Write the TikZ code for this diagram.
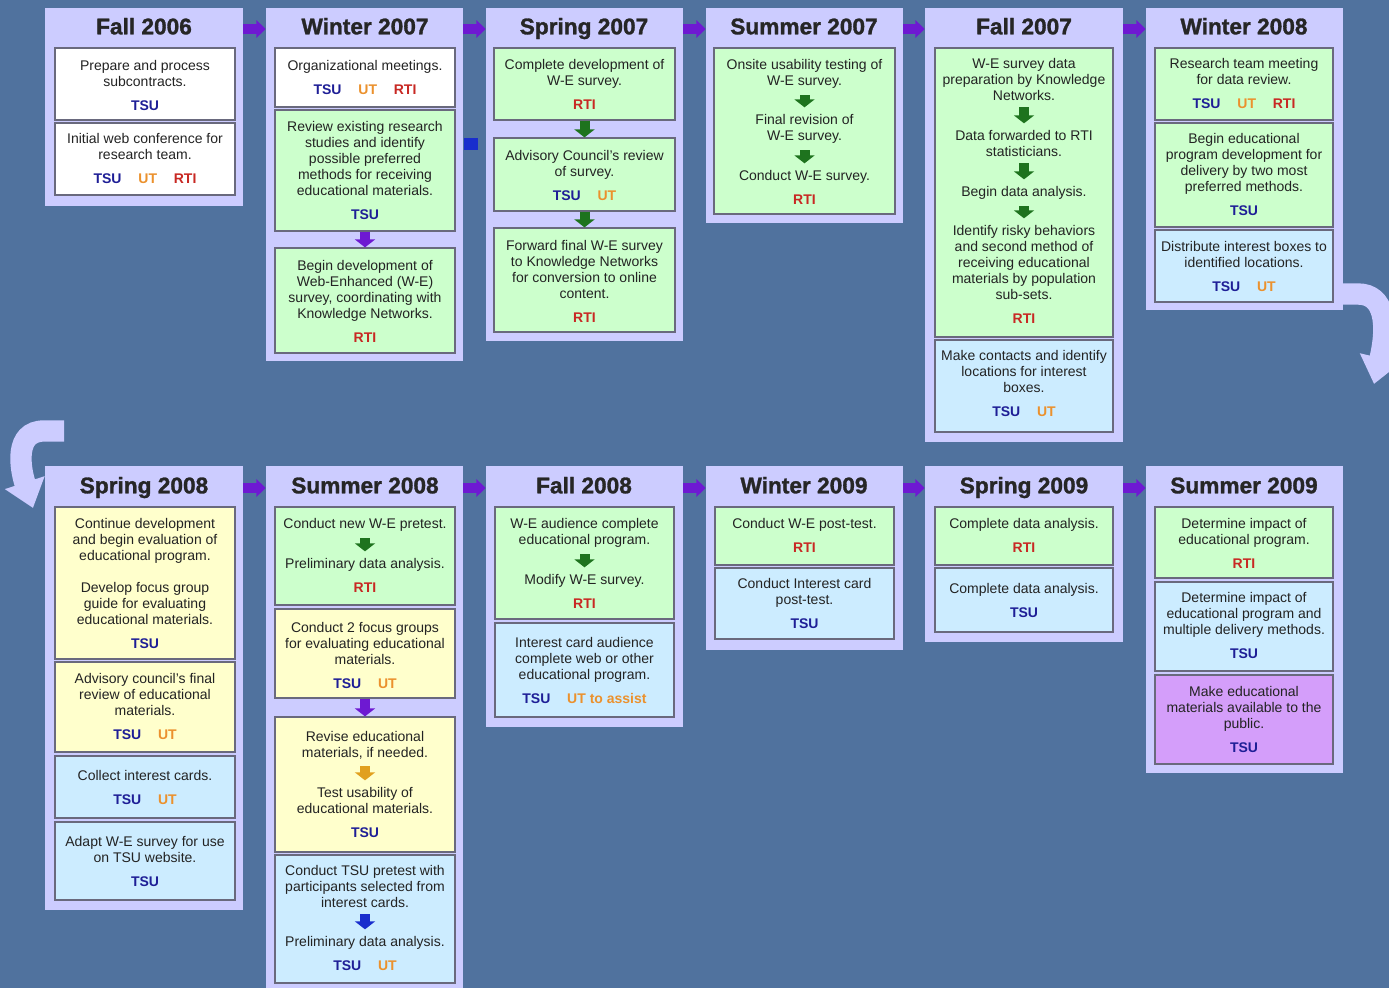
\documentclass[tikz,border=0pt]{standalone}
\usepackage{fontspec}
\setmainfont{Liberation Sans}
\newfontfamily\seasonfont{Liberation Sans}[UprightFont={* Bold}, FakeBold=1.3]
\usetikzlibrary{positioning,fit,arrows.meta}

\definecolor{sea}{RGB}{80,114,158}
\definecolor{lav}{RGB}{204,204,255}
\definecolor{mint}{RGB}{204,255,204}
\definecolor{cream}{RGB}{255,255,204}
\definecolor{sky}{RGB}{204,236,255}
\definecolor{lilac}{RGB}{212,158,250}
\definecolor{edge}{RGB}{105,105,125}
\definecolor{ink}{RGB}{35,35,35}
\definecolor{tsu}{RGB}{30,30,150}
\definecolor{ut}{RGB}{235,145,45}
\definecolor{rti}{RGB}{200,40,35}
\definecolor{pur}{RGB}{110,25,210}
\definecolor{grn}{RGB}{30,115,30}
\definecolor{gold}{RGB}{225,160,30}
\definecolor{blu}{RGB}{25,45,205}

\newcommand\agfont{\fontsize{10.5}{12}\selectfont\bfseries}
\newcommand\agTSU{{\agfont\color{tsu}TSU}}
\newcommand\agUT{{\agfont\color{ut}UT}}
\newcommand\agRTI{{\agfont\color{rti}RTI}}
\newcommand\agsep{\hspace{1.2em}}

\tikzset{
  panel/.style={fill=lav, inner sep=0pt},
  card/.style={draw=edge, line width=0.9pt, inner sep=0pt},
  txt/.style={font=\fontsize{10.5}{12}\selectfont, text=ink, align=center, anchor=north, inner sep=0pt},
  season/.style={font=\fontsize{17}{20}\seasonfont, text=black!85, text height=12pt, text depth=4pt, inner sep=0pt},
  hop/.style={draw=pur, line width=7.5pt, -{Triangle[width=13pt,length=7pt]}},
  flow/.style={line width=7.5pt, -{Triangle[width=15pt,length=6pt]}},
  inflow/.style={flow, shorten <=5pt, shorten >=5pt},
  wrap/.style={draw=lav, line width=16pt, -{Triangle[width=30pt,length=20pt]}},
}

\begin{document}
\begin{tikzpicture}[x=0.75pt, y=-0.75pt]
  \useasboundingbox (0,0) rectangle (1389,988);
  \fill[sea] (0,0) rectangle (1389,988);

  \coordinate (wrapR) at (1330,294);
  \coordinate (wrapRend) at (1374,384);
  \coordinate (wrapL) at (64,431);
  \coordinate (wrapLend) at (33,508);
  \draw[wrap] (wrapR) -- (1358,294) .. controls (1385,294) and (1388,325) .. (wrapRend);
  \draw[wrap] (wrapL) -- (44,431) .. controls (14,431) and (20,468) .. (wrapLend);

  % top row
  \node[panel, fit={(45,8) (243,206)}] (f06) {};
  \node[panel, fit={(266,8) (463,361)}] (w07) {};
  \node[panel, fit={(486,8) (683,341)}] (sp07) {};
  \node[panel, fit={(706,8) (903,223)}] (su07) {};
  \node[panel, fit={(925,8) (1123,442)}] (f07) {};
  \node[panel, fit={(1146,8) (1343,310)}] (w08) {};

  \node[season] (tf06) at (144,29) {Fall 2006};
  \node[season] (tw07) at (365,29) {Winter 2007};
  \node[season] (tsp07) at (584,29) {Spring 2007};
  \node[season] (tsu07) at (804,29) {Summer 2007};
  \node[season] (tf07) at (1024,29) {Fall 2007};
  \node[season] (tw08) at (1244,29) {Winter 2008};

  \node[card, fill=white, fit={(55,48) (235,120)}] (f06a) {};
  \node[card, fill=white, fit={(55,123) (235,195)}] (f06b) {};
  \node[card, fill=white, fit={(275,48) (455,107)}] (w07a) {};
  \node[card, fill=mint, fit={(275,110) (455,231)}] (w07b) {};
  \node[card, fill=mint, fit={(275,248) (455,353)}] (w07c) {};
  \node[card, fill=mint, fit={(494,48) (675,120)}] (sp07a) {};
  \node[card, fill=mint, fit={(494,138) (675,211)}] (sp07b) {};
  \node[card, fill=mint, fit={(494,228) (675,332)}] (sp07c) {};
  \node[card, fill=mint, fit={(714,48) (895,214)}] (su07a) {};
  \node[card, fill=mint, fit={(935,48) (1113,337)}] (f07a) {};
  \node[card, fill=sky, fit={(935,340) (1113,432)}] (f07b) {};
  \node[card, fill=mint, fit={(1155,48) (1333,120)}] (w08a) {};
  \node[card, fill=mint, fit={(1155,123) (1333,227)}] (w08b) {};
  \node[card, fill=sky, fit={(1155,230) (1333,302)}] (w08c) {};

  \node[txt] (f06a-t) at (145,60) {Prepare and process\\subcontracts.\\[6pt]\agTSU};
  \node[txt] (f06b-t) at (145,133) {Initial web conference for\\research team.\\[6pt]\agTSU\agsep\agUT\agsep\agRTI};
  \node[txt] (w07a-t) at (365,60) {Organizational meetings.\\[6pt]\agTSU\agsep\agUT\agsep\agRTI};
  \node[txt] (w07b-t) at (365,121) {Review existing research\\studies and identify\\possible preferred\\methods for receiving\\educational materials.\\[6pt]\agTSU};
  \node[txt] (w07c-t) at (365,260) {Begin development of\\Web-Enhanced (W-E)\\survey, coordinating with\\Knowledge Networks.\\[6pt]\agRTI};
  \node[txt] (sp07a-t) at (584.5,59) {Complete development of\\W-E survey.\\[6pt]\agRTI};
  \node[txt] (sp07b-t) at (584.5,150) {Advisory Council's review\\of survey.\\[6pt]\agTSU\agsep\agUT};
  \node[txt] (sp07c-t) at (584.5,240) {Forward final W-E survey\\to Knowledge Networks\\for conversion to online\\content.\\[6pt]\agRTI};
  \node[txt] (su07-1) at (804.5,59) {Onsite usability testing of\\W-E survey.};
  \node[txt] (su07-2) at (804.5,114) {Final revision of\\W-E survey.};
  \node[txt] (su07-3) at (804.5,170) {Conduct W-E survey.\\[6pt]\agRTI};
  \node[txt] (f07-1) at (1024,58) {W-E survey data\\preparation by Knowledge\\Networks.};
  \node[txt] (f07-2) at (1024,130) {Data forwarded to RTI\\statisticians.};
  \node[txt] (f07-3) at (1024,186) {Begin data analysis.};
  \node[txt] (f07-4) at (1024,225) {Identify risky behaviors\\and second method of\\receiving educational\\materials by population\\sub-sets.\\[6pt]\agRTI};
  \node[txt] (f07b-t) at (1024,350) {Make contacts and identify\\locations for interest\\boxes.\\[6pt]\agTSU\agsep\agUT};
  \node[txt] (w08a-t) at (1244,58) {Research team meeting\\for data review.\\[6pt]\agTSU\agsep\agUT\agsep\agRTI};
  \node[txt] (w08b-t) at (1244,133) {Begin educational\\program development for\\delivery by two most\\preferred methods.\\[6pt]\agTSU};
  \node[txt] (w08c-t) at (1244,241) {Distribute interest boxes to\\identified locations.\\[6pt]\agTSU\agsep\agUT};

  \node[fill=blu, minimum width=11pt, minimum height=9pt, inner sep=0pt] (stub) at (471,144) {};

  % bottom row
  \node[panel, fit={(45,466) (243,910)}] (sp08) {};
  \node[panel, fit={(266,466) (463,988)}] (su08) {};
  \node[panel, fit={(486,466) (683,727)}] (f08) {};
  \node[panel, fit={(706,466) (903,650)}] (w09) {};
  \node[panel, fit={(925,466) (1123,642)}] (sp09) {};
  \node[panel, fit={(1146,466) (1343,773)}] (su09) {};

  \node[season] (tsp08) at (144,488) {Spring 2008};
  \node[season] (tsu08) at (365,488) {Summer 2008};
  \node[season] (tf08) at (584,488) {Fall 2008};
  \node[season] (tw09) at (804,488) {Winter 2009};
  \node[season] (tsp09) at (1024,488) {Spring 2009};
  \node[season] (tsu09) at (1244,488) {Summer 2009};

  \node[card, fill=cream, fit={(55,507) (235,659)}] (sp08a) {};
  \node[card, fill=cream, fit={(55,662) (235,752)}] (sp08b) {};
  \node[card, fill=sky, fit={(55,756) (235,818)}] (sp08c) {};
  \node[card, fill=sky, fit={(55,822) (235,900)}] (sp08d) {};
  \node[card, fill=mint, fit={(275,507) (455,605)}] (su08a) {};
  \node[card, fill=cream, fit={(275,609) (455,698)}] (su08b) {};
  \node[card, fill=cream, fit={(275,717) (455,852)}] (su08c) {};
  \node[card, fill=sky, fit={(275,855) (455,983)}] (su08d) {};
  \node[card, fill=mint, fit={(495,507) (674,619)}] (f08a) {};
  \node[card, fill=sky, fit={(495,623) (674,717)}] (f08b) {};
  \node[card, fill=mint, fit={(715,507) (894,565)}] (w09a) {};
  \node[card, fill=sky, fit={(715,568) (894,639)}] (w09b) {};
  \node[card, fill=mint, fit={(935,507) (1113,565)}] (sp09a) {};
  \node[card, fill=sky, fit={(935,568) (1113,632)}] (sp09b) {};
  \node[card, fill=mint, fit={(1155,507) (1333,578)}] (su09a) {};
  \node[card, fill=sky, fit={(1155,582) (1333,671)}] (su09b) {};
  \node[card, fill=lilac, fit={(1155,675) (1333,764)}] (su09c) {};

  \node[txt] (sp08a-t) at (145,518) {Continue development\\and begin evaluation of\\educational program.\\[12pt]Develop focus group\\guide for evaluating\\educational materials.\\[6pt]\agTSU};
  \node[txt] (sp08b-t) at (145,673) {Advisory council's final\\review of educational\\materials.\\[6pt]\agTSU\agsep\agUT};
  \node[txt] (sp08c-t) at (145,770) {Collect interest cards.\\[6pt]\agTSU\agsep\agUT};
  \node[txt] (sp08d-t) at (145,836) {Adapt W-E survey for use\\on TSU website.\\[6pt]\agTSU};
  \node[txt] (su08a-1) at (365,518) {Conduct new W-E pretest.};
  \node[txt] (su08a-2) at (365,558) {Preliminary data analysis.\\[6pt]\agRTI};
  \node[txt] (su08b-t) at (365,622) {Conduct 2 focus groups\\for evaluating educational\\materials.\\[6pt]\agTSU\agsep\agUT};
  \node[txt] (su08c-1) at (365,731) {Revise educational\\materials, if needed.};
  \node[txt] (su08c-2) at (365,787) {Test usability of\\educational materials.\\[6pt]\agTSU};
  \node[txt] (su08d-1) at (365,865) {Conduct TSU pretest with\\participants selected from\\interest cards.};
  \node[txt] (su08d-2) at (365,936) {Preliminary data analysis.\\[6pt]\agTSU\agsep\agUT};
  \node[txt] (f08a-1) at (584.5,518) {W-E audience complete\\educational program.};
  \node[txt] (f08a-2) at (584.5,574) {Modify W-E survey.\\[6pt]\agRTI};
  \node[txt] (f08b-t) at (584.5,637) {Interest card audience\\complete web or other\\educational program.\\[6pt]\agTSU\agsep{\agfont\color{ut}UT to assist}};
  \node[txt] (w09a-t) at (804.5,518) {Conduct W-E post-test.\\[6pt]\agRTI};
  \node[txt] (w09b-t) at (804.5,578) {Conduct Interest card\\post-test.\\[6pt]\agTSU};
  \node[txt] (sp09a-t) at (1024,518) {Complete data analysis.\\[6pt]\agRTI};
  \node[txt] (sp09b-t) at (1024,583) {Complete data analysis.\\[6pt]\agTSU};
  \node[txt] (su09a-t) at (1244,518) {Determine impact of\\educational program.\\[6pt]\agRTI};
  \node[txt] (su09b-t) at (1244,592) {Determine impact of\\educational program and\\multiple delivery methods.\\[6pt]\agTSU};
  \node[txt] (su09c-t) at (1244,686) {Make educational\\materials available to the\\public.\\[6pt]\agTSU};

  % season to season
  \draw[hop] (tf06 -| f06.east) -- (tw07 -| w07.west);
  \draw[hop] (tw07 -| w07.east) -- (tsp07 -| sp07.west);
  \draw[hop] (tsp07 -| sp07.east) -- (tsu07 -| su07.west);
  \draw[hop] (tsu07 -| su07.east) -- (tf07 -| f07.west);
  \draw[hop] (tf07 -| f07.east) -- (tw08 -| w08.west);
  \draw[hop] (tsp08 -| sp08.east) -- (tsu08 -| su08.west);
  \draw[hop] (tsu08 -| su08.east) -- (tf08 -| f08.west);
  \draw[hop] (tf08 -| f08.east) -- (tw09 -| w09.west);
  \draw[hop] (tw09 -| w09.east) -- (tsp09 -| sp09.west);
  \draw[hop] (tsp09 -| sp09.east) -- (tsu09 -| su09.west);

  % steps inside a season
  \draw[flow, draw=pur] (w07b) -- (w07c);
  \draw[flow, draw=grn] (sp07a) -- (sp07b);
  \draw[flow, draw=grn] (sp07b) -- (sp07c);
  \draw[flow, draw=pur] (su08b) -- (su08c);
  \draw[inflow, draw=grn] (su07-1) -- (su07-2);
  \draw[inflow, draw=grn] (su07-2) -- (su07-3);
  \draw[inflow, draw=grn] (f07-1) -- (f07-2);
  \draw[inflow, draw=grn] (f07-2) -- (f07-3);
  \draw[inflow, draw=grn] (f07-3) -- (f07-4);
  \draw[inflow, draw=grn] (su08a-1) -- (su08a-2);
  \draw[inflow, draw=gold] (su08c-1) -- (su08c-2);
  \draw[inflow, draw=blu] (su08d-1) -- (su08d-2);
  \draw[inflow, draw=grn] (f08a-1) -- (f08a-2);
\end{tikzpicture}
\end{document}
